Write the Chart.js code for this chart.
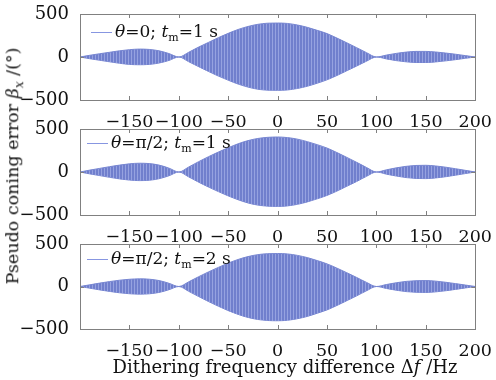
<!DOCTYPE html>
<html lang="en">
<head>
    <meta charset="UTF-8">
    <title>Pseudo coning error</title>
    <script src="https://cdn.jsdelivr.net/npm/chart.js"></script>
    <style>
        body {
            margin: 0;
            background: #fff;
            font-family: "DejaVu Serif", serif;
        }
        .wrap {
            position: relative;
            width: 496px;
            height: 380px;
            overflow: hidden;
        }
        .wrap canvas {
            position: absolute;
            left: 0;
        }
        .legend {
            position: absolute;
            font-size: 17px;
            color: #111;
            white-space: nowrap;
        }
        .legend .line {
            display: inline-block;
            width: 21px;
            height: 1px;
            background: rgb(135, 150, 225);
            vertical-align: middle;
            margin-right: 3px;
        }
        .legend sub { font-size: 11px; }
        .ylabel {
            position: absolute;
            left: 14px;
            top: 166px;
            transform: translate(-50%, -50%) rotate(-90deg);
            font-size: 17.5px;
            white-space: nowrap;
            color: #111;
        }
        .xlabel {
            position: absolute;
            left: 285px;
            top: 366px;
            transform: translate(-50%, -50%);
            font-size: 18px;
            white-space: nowrap;
            color: #111;
        }
    </style>
</head>
<body>
<div class="wrap">
    <canvas id="c1" width="496" height="140" style="top:0px"></canvas>
    <canvas id="c2" width="496" height="140" style="top:115px"></canvas>
    <canvas id="c3" width="496" height="150" style="top:230px"></canvas>

    <div class="legend" style="left:91px; top:21px;"><span class="line"></span><i>θ</i>=0; <i>t</i><sub>m</sub>=1 s</div>
    <div class="legend" style="left:87px; top:132px;"><span class="line"></span><i>θ</i>=π/2; <i>t</i><sub>m</sub>=1 s</div>
    <div class="legend" style="left:87px; top:248px;"><span class="line"></span><i>θ</i>=π/2; <i>t</i><sub>m</sub>=2 s</div>

    <div class="ylabel">Pseudo coning error <i>β</i><sub style="font-size:12px"><i>x</i></sub> /(°)</div>
    <div class="xlabel">Dithering frequency difference Δ<i>f</i> /Hz</div>
</div>

<script>
    // frequency difference (Hz), 10 Hz steps
    const freq = [-200, -190, -180, -170, -160, -150, -140, -130, -120, -110,
                  -100, -90, -80, -70, -60, -50, -40, -30, -20, -10,
                  0, 10, 20, 30, 40, 50, 60, 70, 80, 90,
                  100, 110, 120, 130, 140, 150, 160, 170, 180, 190, 200];

    // envelope of the oscillating error (deg)
    // panel 1: theta=0, tm=1 s
    const upper1 = [0, 20, 38, 55, 72, 85, 92, 88, 72, 40,
                    0, 55, 115, 170, 225, 275, 320, 355, 380, 393,
                    395, 390, 372, 345, 310, 272, 220, 165, 108, 50,
                    0, 22, 42, 57, 65, 65, 58, 46, 32, 16, 0];
    const lower1 = [0, -20, -38, -56, -73, -86, -90, -86, -70, -40,
                    0, -55, -112, -168, -222, -270, -315, -350, -375, -386,
                    -388, -383, -366, -340, -305, -265, -215, -160, -105, -48,
                    0, -22, -42, -56, -64, -64, -57, -45, -31, -15, 0];

    // panel 2: theta=pi/2, tm=1 s
    const upper2 = [0, 22, 42, 62, 80, 95, 102, 98, 80, 45,
                    0, 58, 120, 178, 232, 282, 328, 365, 390, 403,
                    407, 400, 382, 353, 318, 278, 226, 170, 112, 52,
                    0, 25, 48, 66, 76, 78, 70, 56, 38, 19, 0];
    const lower2 = [0, -22, -42, -62, -80, -94, -100, -96, -78, -44,
                    0, -57, -118, -175, -228, -278, -323, -360, -385, -397,
                    -400, -394, -376, -348, -312, -272, -222, -166, -110, -50,
                    0, -25, -47, -65, -75, -77, -69, -55, -37, -18, 0];

    // panel 3: theta=pi/2, tm=2 s
    const upper3 = [0, 20, 40, 58, 74, 85, 90, 86, 70, 38,
                    0, 55, 115, 172, 225, 275, 318, 352, 375, 386,
                    388, 383, 366, 340, 305, 266, 216, 162, 106, 48,
                    0, 23, 44, 60, 68, 70, 63, 50, 34, 17, 0];
    const lower3 = [0, -20, -40, -58, -74, -85, -90, -86, -70, -38,
                    0, -57, -118, -177, -232, -284, -328, -364, -388, -400,
                    -403, -397, -379, -352, -315, -275, -223, -167, -110, -50,
                    0, -23, -44, -60, -68, -70, -63, -50, -34, -17, 0];

    const xTicks = [-150, -100, -50, 0, 50, 100, 150, 200];
    const yTicks = [-500, 0, 500];

    const FONT = '"DejaVu Serif", serif';
    const AXIS_GRAY = 'rgb(128, 128, 128)';

    // vertical stripe texture to mimic the dense oscillation
    function stripePattern() {
        const pc = document.createElement('canvas');
        pc.width = 3;
        pc.height = 4;
        const g = pc.getContext('2d');
        g.fillStyle = 'rgb(112, 127, 205)';
        g.fillRect(0, 0, 3, 4);
        g.fillStyle = 'rgb(150, 162, 224)';
        g.fillRect(2, 0, 1, 4);
        return g.createPattern(pc, 'repeat');
    }

    function minusFmt(v) {
        return v < 0 ? '\u2212' + Math.abs(v) : String(v);
    }

    // box around the axes + inward tick marks (matlab style)
    const boxPlugin = {
        id: 'box',
        afterDraw(chart) {
            const ctx = chart.ctx;
            const a = chart.chartArea;
            const xs = chart.scales.x, ys = chart.scales.y;
            ctx.save();
            ctx.strokeStyle = AXIS_GRAY;
            ctx.lineWidth = 1;
            ctx.strokeRect(Math.round(a.left) + 0.5, Math.round(a.top) + 0.5,
                           Math.round(a.right - a.left), Math.round(a.bottom - a.top));
            ctx.beginPath();
            xTicks.forEach(v => {
                const px = Math.round(xs.getPixelForValue(v)) + 0.5;
                ctx.moveTo(px, a.bottom); ctx.lineTo(px, a.bottom - 4);
                ctx.moveTo(px, a.top); ctx.lineTo(px, a.top + 4);
            });
            yTicks.forEach(v => {
                const py = Math.round(ys.getPixelForValue(v)) + 0.5;
                ctx.moveTo(a.left, py); ctx.lineTo(a.left + 4, py);
                ctx.moveTo(a.right, py); ctx.lineTo(a.right - 4, py);
            });
            ctx.stroke();
            ctx.restore();
        }
    };

    function makePanel(id, upper, lower, axisHeight) {
        const fillColor = stripePattern();
        const pts = arr => arr.map((v, i) => ({ x: freq[i], y: v }));
        new Chart(document.getElementById(id), {
            type: 'line',
            data: {
                datasets: [{
                    data: pts(upper),
                    borderColor: 'rgb(120, 135, 210)',
                    borderWidth: 1,
                    backgroundColor: fillColor,
                    fill: '+1',
                    pointRadius: 0,
                    cubicInterpolationMode: 'monotone'
                }, {
                    data: pts(lower),
                    borderColor: 'rgb(120, 135, 210)',
                    borderWidth: 1,
                    fill: false,
                    pointRadius: 0,
                    cubicInterpolationMode: 'monotone'
                }]
            },
            options: {
                responsive: false,
                animation: false,
                events: [],
                layout: { padding: { top: 14, right: 17, left: 0, bottom: 0 } },
                plugins: { legend: { display: false }, tooltip: { enabled: false } },
                scales: {
                    x: {
                        type: 'linear',
                        min: -200,
                        max: 200,
                        afterBuildTicks: s => { s.ticks = xTicks.map(v => ({ value: v })); },
                        afterFit: s => { s.height = axisHeight; },
                        grid: { display: false },
                        border: { display: false },
                        ticks: {
                            color: '#111',
                            padding: 4,
                            maxRotation: 0,
                            autoSkip: false,
                            font: { family: FONT, size: 17.5 },
                            callback: minusFmt
                        }
                    },
                    y: {
                        min: -500,
                        max: 500,
                        afterBuildTicks: s => { s.ticks = yTicks.map(v => ({ value: v })); },
                        afterFit: s => { s.width = 80; },
                        grid: { display: false },
                        border: { display: false },
                        ticks: {
                            color: '#111',
                            padding: 3,
                            font: { family: FONT, size: 18 },
                            callback: minusFmt
                        }
                    }
                }
            },
            plugins: [boxPlugin]
        });
    }

    makePanel('c1', upper1, lower1, 40);
    makePanel('c2', upper2, lower2, 40);
    makePanel('c3', upper3, lower3, 51);
</script>
</body>
</html>
